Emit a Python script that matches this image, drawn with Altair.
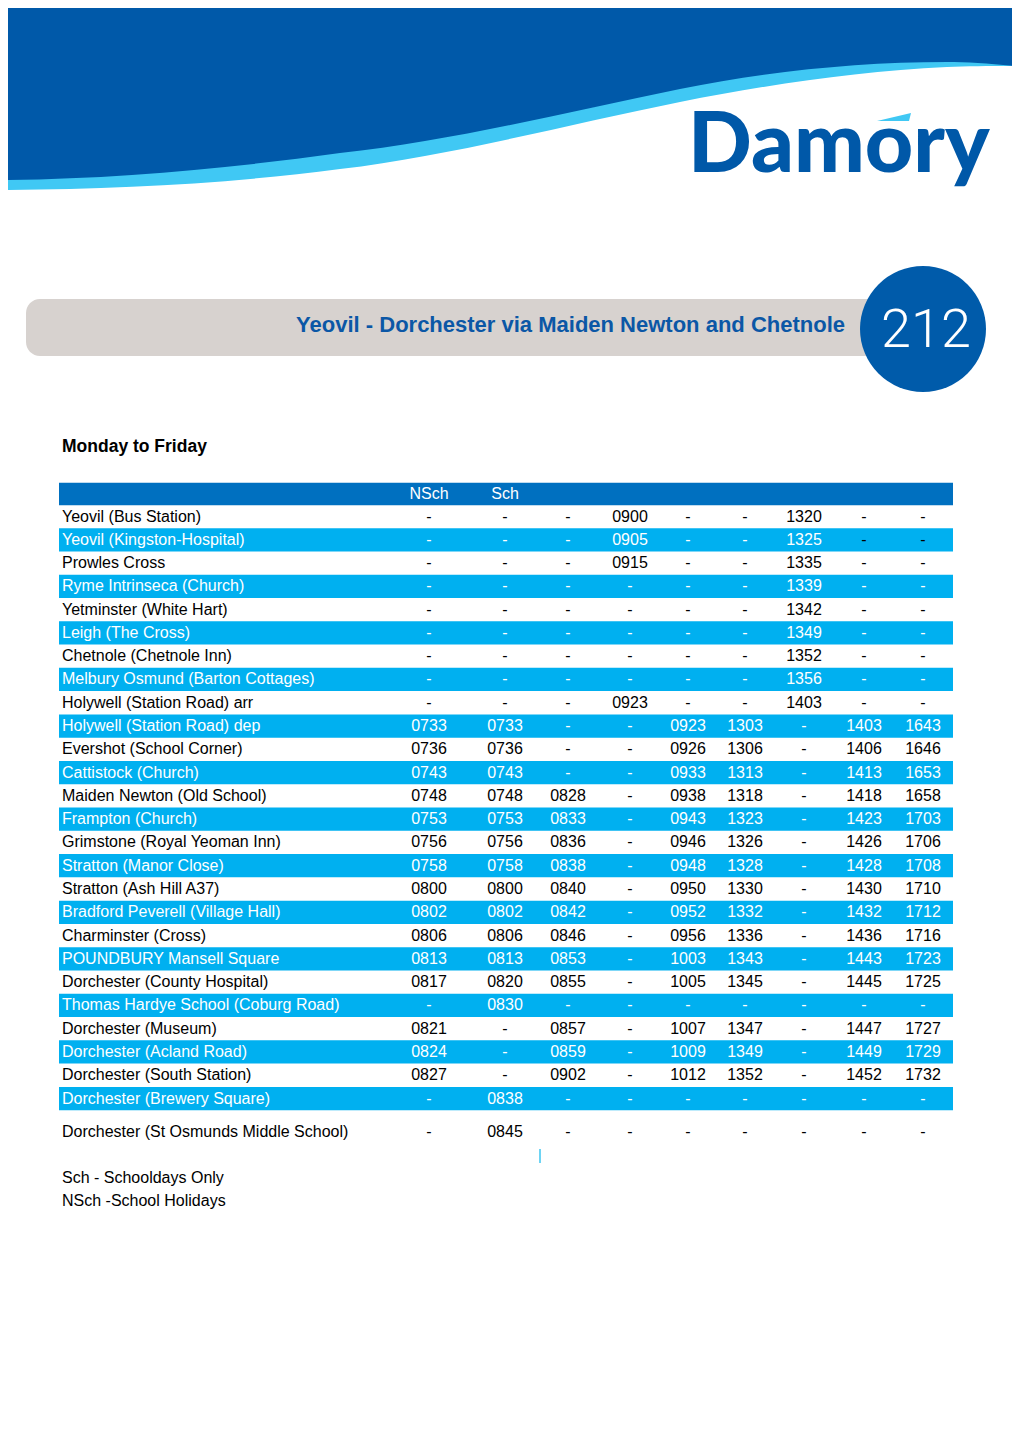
import altair as alt
import pandas as pd

# ---------------- data ----------------
stops = [
    "Yeovil (Bus Station)",
    "Yeovil (Kingston-Hospital)",
    "Prowles Cross",
    "Ryme Intrinseca (Church)",
    "Yetminster (White Hart)",
    "Leigh (The Cross)",
    "Chetnole (Chetnole Inn)",
    "Melbury Osmund (Barton Cottages)",
    "Holywell (Station Road) arr",
    "Holywell (Station Road) dep",
    "Evershot (School Corner)",
    "Cattistock (Church)",
    "Maiden Newton (Old School)",
    "Frampton (Church)",
    "Grimstone (Royal Yeoman Inn)",
    "Stratton (Manor Close)",
    "Stratton (Ash Hill A37)",
    "Bradford Peverell (Village Hall)",
    "Charminster (Cross)",
    "POUNDBURY Mansell Square",
    "Dorchester (County Hospital)",
    "Thomas Hardye School (Coburg Road)",
    "Dorchester (Museum)",
    "Dorchester (Acland Road)",
    "Dorchester (South Station)",
    "Dorchester (Brewery Square)",
    "Dorchester (St Osmunds Middle School)",
]

col_headers = ["NSch", "Sch", "", "", "", "", "", "", ""]

j1 = ["-"] * 9 + ["0733", "0736", "0743", "0748", "0753", "0756", "0758", "0800", "0802",
                  "0806", "0813", "0817", "-", "0821", "0824", "0827", "-", "-"]
j2 = ["-"] * 9 + ["0733", "0736", "0743", "0748", "0753", "0756", "0758", "0800", "0802",
                  "0806", "0813", "0820", "0830", "-", "-", "-", "0838", "0845"]
j3 = ["-"] * 12 + ["0828", "0833", "0836", "0838", "0840", "0842", "0846", "0853", "0855",
                   "-", "0857", "0859", "0902", "-", "-"]
j4 = ["0900", "0905", "0915", "-", "-", "-", "-", "-", "0923"] + ["-"] * 18
j5 = ["-"] * 9 + ["0923", "0926", "0933", "0938", "0943", "0946", "0948", "0950", "0952",
                  "0956", "1003", "1005", "-", "1007", "1009", "1012", "-", "-"]
j6 = ["-"] * 9 + ["1303", "1306", "1313", "1318", "1323", "1326", "1328", "1330", "1332",
                  "1336", "1343", "1345", "-", "1347", "1349", "1352", "-", "-"]
j7 = ["1320", "1325", "1335", "1339", "1342", "1349", "1352", "1356", "1403"] + ["-"] * 18
j8 = ["-"] * 9 + ["1403", "1406", "1413", "1418", "1423", "1426", "1428", "1430", "1432",
                  "1436", "1443", "1445", "-", "1447", "1449", "1452", "-", "-"]
j9 = ["-"] * 9 + ["1643", "1646", "1653", "1658", "1703", "1706", "1708", "1710", "1712",
                  "1716", "1723", "1725", "-", "1727", "1729", "1732", "-", "-"]
journeys = [j1, j2, j3, j4, j5, j6, j7, j8, j9]

legend_lines = ["Sch - Schooldays Only", "NSch -School Holidays"]
day_label = "Monday to Friday"
title_text = "Yeovil  - Dorchester via Maiden Newton and Chetnole"
route_no = "212"
brand = "Damory"

# ---------------- tables for the library ----------------
names_df = pd.DataFrame({"row": list(range(len(stops))), "col": 0, "label": stops})
rows = []
for c, j in enumerate(journeys, start=1):
    for r, v in enumerate(j):
        rows.append({"row": r, "col": c, "label": v})
times_df = pd.DataFrame(rows)
head_df = pd.DataFrame({"row": -1, "col": list(range(1, 10)), "label": col_headers})
legend_df = pd.DataFrame({"row": [27, 28], "col": 0, "label": legend_lines})
band_df = pd.DataFrame({"row": [r for r in range(len(stops) - 1) if r % 2 == 1]})
hband_df = pd.DataFrame({"row": [-1]})
one = pd.DataFrame({"k": [0]})

# ---------------- styling ----------------
DARK = "#0059A9"
LIGHT = "#40C8F4"
ROWBLUE = "#00B0F0"
HEADBLUE = "#0070C0"
GREY = "#D7D2CF"
FONT = "Liberation Sans"
OFF = 8  # page margin

x_scale = alt.Scale(type="linear", zero=False, nice=False,
                    domain=[0, 1, 2, 3, 4, 5, 6, 7, 8, 9],
                    range=[54, 421, 497, 560, 622, 680, 737, 796, 856, 915])
y_scale = alt.Scale(type="linear", zero=False, nice=False,
                    domain=[-1, 0, 25.6, 26, 27, 28],
                    range=[486, 508.5, 1104.5, 1123.5, 1169.5, 1192.5])
X = alt.X("col:Q", scale=x_scale, axis=None)
Y = alt.Y("row:Q", scale=y_scale, axis=None)

txt_color = alt.condition(
    "datum.row % 2 == 1 && datum.row <= 25 && !(datum.row == 1 && datum.col >= 8)",
    alt.value("white"), alt.value("black"))

# ---------------- decorations ----------------
wave_light_path = ("M0,0 L1030,0 L1030,66 C1000,66 971,66 947,67 C858,71.5 769,84.2 680,102 "
                   "C567,124.6 453,155.4 340,169 C227,184 113,189 0,190 L-20,190 L-20,0 Z")
wave_dark_path = ("M0,0 L1030,0 L1030,68 C1000,64 971,62 947,62 C858,62 769,71.2 680,89 "
                  "C567,112 453,140.6 340,153 C227,168.8 113,179 0,180 L-20,180 L-20,0 Z")
accent_path = "M877,121 L911,113 L909,121 Z"

def shape_layer(path, color):
    return alt.Chart(one).mark_point(shape=path, filled=True, size=4, opacity=1,
                                     strokeWidth=0, color=color).encode(
        x=alt.value(-OFF), y=alt.value(-OFF))

wave_light = shape_layer(wave_light_path, LIGHT)
wave_dark = shape_layer(wave_dark_path, DARK)
accent = shape_layer(accent_path, LIGHT)

logo = alt.Chart(one).mark_text(text=brand, font="Lato", fontWeight=900, fontSize=84,
                                align="left", baseline="alphabetic", color="#0058A8").encode(
    x=alt.value(688 - OFF), y=alt.value(172 - OFF))

pill = alt.Chart(one).mark_rect(color=GREY, cornerRadius=14).encode(
    x=alt.value(26 - OFF), x2=alt.value(900 - OFF),
    y=alt.value(299 - OFF), y2=alt.value(356 - OFF))

title = alt.Chart(one).mark_text(text=title_text, font=FONT, fontWeight="bold", fontSize=22,
                                 align="right", baseline="middle", color="#0B57A6").encode(
    x=alt.value(845 - OFF), y=alt.value(325 - OFF))

badge = alt.Chart(one).mark_point(shape="circle", filled=True, size=126 ** 2, opacity=1,
                                  strokeWidth=0, color="#005BAA").encode(
    x=alt.value(923 - OFF), y=alt.value(329 - OFF))

badge_txt = alt.Chart(one).mark_text(text=route_no, font="Roboto", fontWeight=300, fontSize=54,
                                     align="center", baseline="middle", color="white").encode(
    x=alt.value(926 - OFF), y=alt.value(331 - OFF))

day = alt.Chart(one).mark_text(text=day_label, font=FONT, fontWeight="bold", fontSize=17.5,
                               align="left", baseline="middle", color="black").encode(
    x=alt.value(62 - OFF), y=alt.value(447 - OFF))

tick = alt.Chart(one).mark_rule(color="#3EC6F0", strokeWidth=1.5).encode(
    x=alt.value(540 - OFF), y=alt.value(1149 - OFF), y2=alt.value(1163 - OFF))

# ---------------- table ----------------
hband = alt.Chart(hband_df).transform_calculate(
    y1="datum.row - 0.5", y2="datum.row + 0.5").mark_rect(color=HEADBLUE).encode(
    x=alt.value(59 - OFF), x2=alt.value(953 - OFF),
    y=alt.Y("y1:Q", scale=y_scale, axis=None), y2="y2:Q")

bands = alt.Chart(band_df).transform_calculate(
    y1="datum.row - 0.5", y2="datum.row + 0.5").mark_rect(color=ROWBLUE).encode(
    x=alt.value(59 - OFF), x2=alt.value(953 - OFF),
    y=alt.Y("y1:Q", scale=y_scale, axis=None), y2="y2:Q")

names = alt.Chart(names_df).mark_text(font=FONT, fontSize=16, align="left",
                                      baseline="middle").encode(
    x=X, y=Y, text="label:N", color=txt_color)

times = alt.Chart(times_df).mark_text(font=FONT, fontSize=16, align="center",
                                      baseline="middle").encode(
    x=X, y=Y, text="label:N", color=txt_color)

heads = alt.Chart(head_df).mark_text(font=FONT, fontSize=16, align="center",
                                     baseline="middle", color="white").encode(
    x=X, y=Y, text="label:N")

legend = alt.Chart(legend_df).mark_text(font=FONT, fontSize=16, align="left",
                                        baseline="middle", color="black").encode(
    x=X, y=Y, text="label:N")

chart = alt.layer(
    wave_light, wave_dark, accent, logo, pill, title, badge, badge_txt, day,
    hband, bands, names, times, heads, legend, tick
).properties(
    width=1004, height=1230,
    autosize=alt.AutoSizeParams(type="none"),
    padding=0,
    background="white",
).configure_view(stroke=None)

chart.save("out.html", embed_options={"renderer": "svg", "actions": False})
